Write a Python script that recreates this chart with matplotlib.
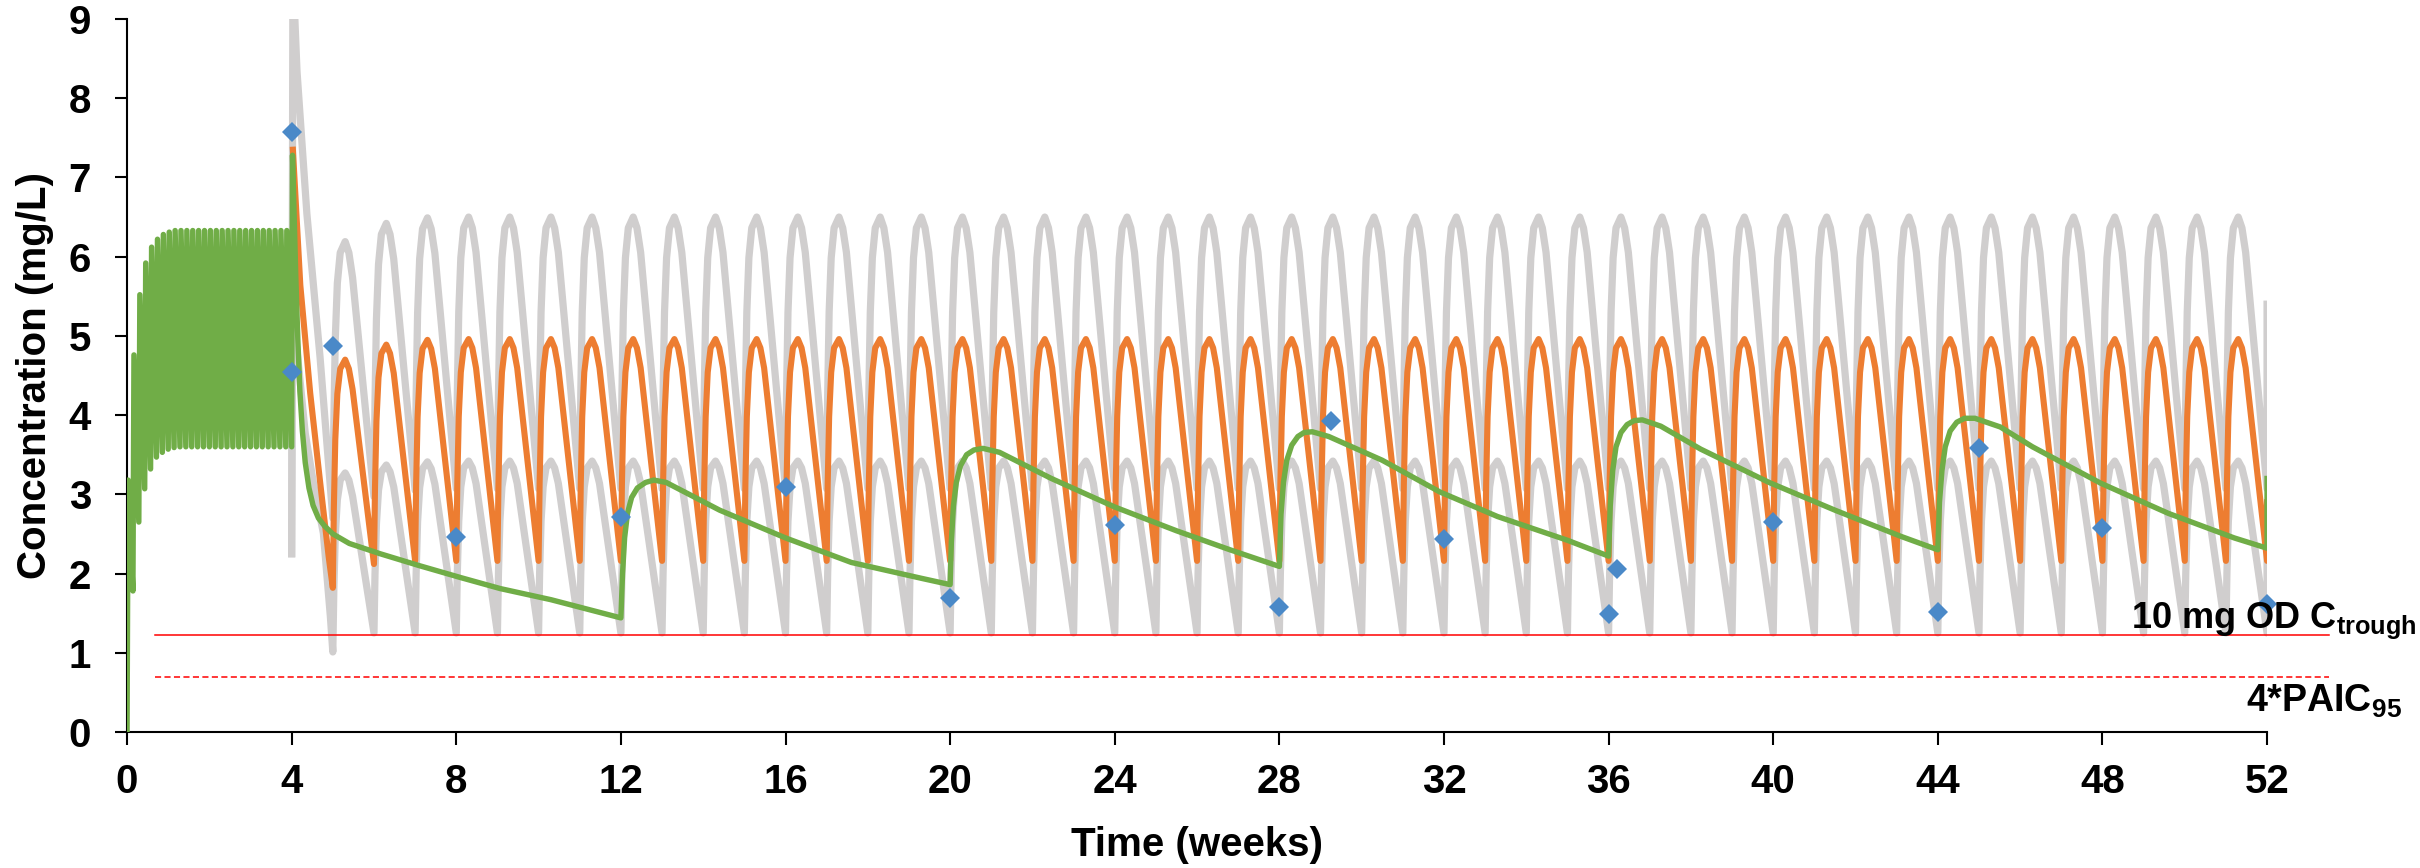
import matplotlib
matplotlib.use("Agg")
import matplotlib.pyplot as plt

plt.rcParams['font.family'] = ['Liberation Sans', 'DejaVu Sans']
plt.rcParams['font.weight'] = 'bold'
plt.rcParams['mathtext.fontset'] = 'custom'
plt.rcParams['mathtext.rm'] = 'Liberation Sans:bold'
plt.rcParams['mathtext.it'] = 'Liberation Sans:bold'
plt.rcParams['mathtext.bf'] = 'Liberation Sans:bold'

# ---- data (time in weeks, concentration in mg/L) ----

# green: daily loading for 4 weeks (trough before each dose, peak after it)
green_daily_trough = [0.0, 1.78, 2.65, 3.07, 3.32, 3.47, 3.53, 3.57, 3.59] + [3.60] * 19
green_daily_peak = [3.18, 4.76, 5.52, 5.92, 6.12, 6.22, 6.28, 6.31, 6.33] + [6.33] * 19

# green after week 4: long acting dose every 8 weeks
green_t = [4.0, 4.02, 4.06, 4.1, 4.15, 4.2, 4.26, 4.33, 4.42, 4.52, 4.65, 4.8, 5.0, 5.4, 6.15, 7.1,
           8.1, 9.07, 10.3, 12.0,
           12.04, 12.09, 12.16, 12.26, 12.4, 12.6, 12.8, 13.1, 14.4, 16.0, 17.6, 19.3, 20.0,
           20.03, 20.08, 20.15, 20.25, 20.4, 20.58, 20.8, 21.2, 22.46, 24.0, 25.5, 26.8, 28.0,
           28.04, 28.1, 28.18, 28.3, 28.45, 28.6, 28.8, 29.2, 30.5, 31.9, 33.3, 35.0, 36.0,
           36.04, 36.1, 36.18, 36.3, 36.45, 36.62, 36.82, 37.27, 38.24, 39.9, 41.5, 43.1, 44.0,
           44.04, 44.1, 44.18, 44.3, 44.46, 44.65, 44.9, 45.52, 46.3, 47.96, 49.6, 51.2, 52.0, 52.0]
green_c = [3.6, 7.28, 6.5, 5.75, 4.95, 4.3, 3.8, 3.4, 3.08, 2.86, 2.7, 2.6, 2.5, 2.38, 2.25, 2.1,
           1.95, 1.81, 1.67, 1.44,
           2.0, 2.45, 2.76, 2.96, 3.08, 3.15, 3.18, 3.15, 2.8, 2.45, 2.14, 1.94, 1.86,
           2.4, 2.85, 3.15, 3.36, 3.5, 3.56, 3.58, 3.53, 3.2, 2.84, 2.54, 2.3, 2.09,
           2.75, 3.15, 3.43, 3.62, 3.73, 3.78, 3.79, 3.73, 3.43, 3.03, 2.72, 2.42, 2.22,
           2.85, 3.3, 3.6, 3.78, 3.88, 3.93, 3.94, 3.86, 3.57, 3.15, 2.8, 2.47, 2.3,
           2.9, 3.3, 3.6, 3.8, 3.91, 3.96, 3.96, 3.85, 3.6, 3.14, 2.76, 2.45, 2.32, 3.2]

# weekly regimen: first decay after week 4, then troughs (weeks 5..52) and peaks (weeks 5..51)
weeks = list(range(5, 53))
orange_start_t = [4.03, 4.21, 4.45, 4.69, 4.9]
orange_start_c = [7.35, 5.64, 4.28, 3.16, 2.21]
orange_trough = [1.82, 2.12, 2.16] + [2.16] * 45
orange_peak = [4.70, 4.89, 4.95] + [4.96] * 44
orange_end = 2.9

hi_start_t = [4.0, 4.03, 4.13, 4.37, 4.69]
hi_start_c = [2.25, 9.6, 8.34, 6.54, 4.73]
hi_trough = [2.70, 2.97, 3.05] + [3.07] * 45
hi_peak = [6.19, 6.42, 6.49] + [6.50] * 44
hi_end = 5.4

lo_start_t = [4.0, 4.02, 4.33, 4.53, 4.77, 4.94]
lo_start_c = [2.25, 5.4, 3.77, 3.14, 2.51, 1.46]
lo_trough = [1.01, 1.25, 1.25] + [1.25] * 45
lo_peak = [3.27, 3.37, 3.41] + [3.42] * 44
lo_end = 2.3

# shape of one weekly cycle (time after dose, fraction of trough->peak rise)
cycle_offset = [0.0, 0.025, 0.06, 0.11, 0.18, 0.30, 0.39, 0.48]
cycle_frac = [0.0, 0.35, 0.65, 0.85, 0.96, 1.0, 0.96, 0.87]

# observed concentrations
obs_t = [4, 4, 5, 8, 12, 16, 20, 24, 28, 29.25, 32, 36, 36.2, 40, 44, 45, 48, 52]
obs_c = [7.57, 4.55, 4.87, 2.46, 2.71, 3.09, 1.69, 2.61, 1.58, 3.92, 2.43, 1.49, 2.06, 2.65, 1.52, 3.59, 2.57, 1.62]

ctrough_10mg = 1.22
paic95_x4 = 0.70


def weekly_curve(start_t, start_c, troughs, peaks, end_c):
    t = list(start_t)
    c = list(start_c)
    for i, w in enumerate(weeks[:-1]):
        for off, f in zip(cycle_offset, cycle_frac):
            t.append(w + off)
            c.append(troughs[i] + f * (peaks[i] - troughs[i]))
    t += [weeks[-1], weeks[-1]]
    c += [troughs[-1], end_c]
    return t, c


def daily_curve():
    t, c = [], []
    for k in range(28):
        t += [k / 7, k / 7 + 0.025]
        c += [green_daily_trough[k], green_daily_peak[k]]
    return t, c


fig = plt.figure(figsize=(24.2, 8.68), dpi=100)
ax = fig.add_axes([0.0525, 0.1567, 0.8843, 0.8214])

gray = '#D0CECE'
t, c = weekly_curve(hi_start_t, hi_start_c, hi_trough, hi_peak, hi_end)
ax.plot(t, c, color=gray, lw=5.2, solid_joinstyle='round', zorder=2)
t, c = weekly_curve(lo_start_t, lo_start_c, lo_trough, lo_peak, lo_end)
ax.plot(t, c, color=gray, lw=5.2, solid_joinstyle='round', zorder=2)

ax.plot([0.68, 53.5], [ctrough_10mg] * 2, color='#FF0000', lw=1.1, zorder=2.5, clip_on=False)
ax.plot([0.68, 53.5], [paic95_x4] * 2, color='#FF0000', lw=1.1, ls=(0, (4, 2.2)), zorder=2.5, clip_on=False)

t, c = weekly_curve(orange_start_t, orange_start_c, orange_trough, orange_peak, orange_end)
ax.plot(t, c, color='#ED7D31', lw=4.4, solid_joinstyle='round', zorder=3)

t, c = daily_curve()
ax.plot(t + green_t, c + green_c, color='#70AD47', lw=3.9, solid_joinstyle='round', zorder=4)

ax.plot(obs_t, obs_c, 'D', color='#4A89C8', markersize=10, markeredgewidth=0, zorder=5, clip_on=False)

ax.text(48.7, 1.31, r'10 mg OD C$_{\mathrm{trough}}$', fontsize=26, fontweight='bold', zorder=6)
ax.text(51.5, 0.25, r'4*PAIC$_{\mathrm{95}}$', fontsize=27, fontweight='bold', zorder=6)

ax.set_xlim(0, 52)
ax.set_ylim(0, 9)
ax.set_xticks(range(0, 53, 4))
ax.set_yticks(range(0, 10))
for s in ['top', 'right']:
    ax.spines[s].set_visible(False)
for s in ['left', 'bottom']:
    ax.spines[s].set_linewidth(1.5)
ax.tick_params(axis='both', direction='out', length=9, width=1.5, labelsize=29)
ax.tick_params(axis='y', pad=17)
ax.tick_params(axis='x', pad=13)

ax.set_xlabel('Time (weeks)', fontsize=29, fontweight='bold', va='center')
ax.set_ylabel('Concentration (mg/L)', fontsize=29, fontweight='bold', va='center')
ax.xaxis.set_label_coords(0.5, -0.158)
ax.yaxis.set_label_coords(-0.043, 0.5)

fig.savefig('out.png', dpi=100)
